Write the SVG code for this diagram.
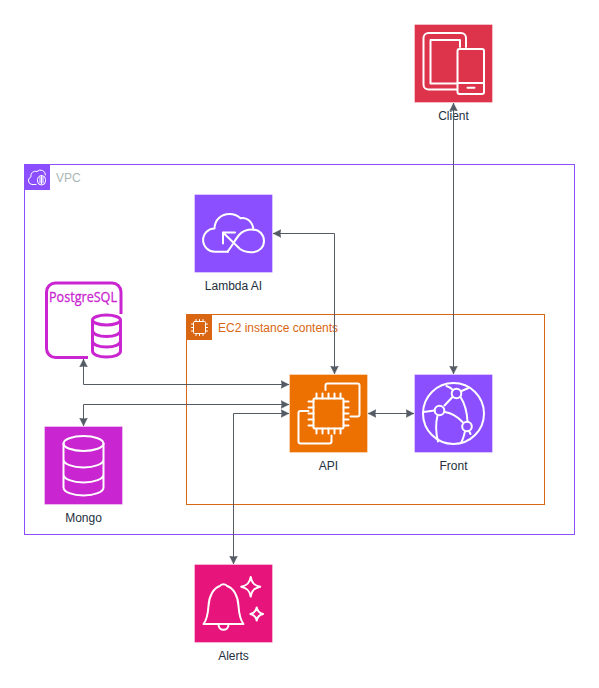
<svg xmlns="http://www.w3.org/2000/svg" width="599" height="688" viewBox="0 0 599 688">
<style>
text{font-family:"Liberation Sans",Arial,sans-serif;font-size:12px}
.lbl{fill:#232f3e;text-anchor:middle}
.box{stroke:#fff;stroke-opacity:.35;stroke-width:1}
.ic{fill:none;stroke:#fff;stroke-width:2;stroke-linejoin:round;stroke-linecap:round}
.ic1{fill:none;stroke:#fff;stroke-width:1;stroke-linejoin:round;stroke-linecap:round}
.pg{fill:none;stroke:#c925d1;stroke-width:3;stroke-linejoin:round}
.con{fill:none;stroke:#545b64;stroke-width:1;marker-start:url(#ah);marker-end:url(#ah)}
</style>
<defs>
<marker id="ah" markerWidth="9" markerHeight="9" refX="8" refY="4.500" orient="auto-start-reverse" markerUnits="userSpaceOnUse">
<path d="M8 4.500L0 .5L.8 4.500L0 8.500Z" fill="#545b64" stroke="#545b64" stroke-width=".3"/>
</marker>
</defs>
<rect width="599" height="688" fill="#fff"/>

<g id="vpc">
<rect x="24.500" y="164.500" width="550" height="370" fill="none" stroke="#8c4fff"/>
<rect x="25" y="165" width="25" height="25" fill="#8c4fff"/>
<path class="ic1" d="M36 184.500h-4a4 4 0 0 1-1-7.700a4.500 4.500 0 0 1 6-5.300a5 5 0 0 1 8.500 3.500"/>
<rect class="ic1" x="37.500" y="175.500" width="8" height="9.500" rx="4"/>
<path class="ic1" d="M40 177v6M41.500 176v8M43 177v6"/>
<text x="56" y="182" fill="#aab7b8">VPC</text>
</g>

<g id="ec2-group">
<rect x="186.500" y="314.500" width="358" height="190" fill="none" stroke="#d86613"/>
<rect x="187" y="315" width="25" height="25" fill="#d86613"/>
<rect class="ic1" x="193.500" y="321.500" width="12" height="12" rx="1"/>
<path class="ic1" d="M196 319.500v2M199.500 319.500v2M203 319.500v2M196 333.500v2M199.500 333.500v2M203 333.500v2M191.500 324h2M191.500 327.500h2M191.500 331h2M205.500 324h2M205.500 327.500h2M205.500 331h2"/>
<text x="218" y="332" fill="#d86613">EC2 instance contents</text>
</g>

<g id="client">
<rect class="box" x="414.500" y="24.500" width="78" height="78" fill="#dd344c"/>
<path class="ic" d="M466 47v-9a5 5 0 0 0-5-5h-32.500a5 5 0 0 0-5 5v46.500a5 5 0 0 0 5 5H457"/>
<path class="ic" d="M460 47v-7h-29.500v43.500H457"/>
<rect class="ic" x="457.500" y="49" width="26.500" height="45" rx="2"/>
<path class="ic" d="M457.500 83H484M467.500 87.800h7"/>
<text class="lbl" x="453.500" y="120">Client</text>
</g>

<g id="lambda-ai">
<rect class="box" x="194.500" y="194.500" width="78" height="78" fill="#8c4fff"/>
<path class="ic" d="M228 251.700h-13a11 11 0 0 1-.5-23.300c.3-8.500 6.500-14.300 15-14.300c4.500 0 8 1.500 11 4.200c6-1.500 12 3 13 11.500"/>
<path class="ic" d="M223 232.500h12M223 232.500v11M223 232.500L240 249c3.500 2.500 8 3.500 13 3.200c6.500-.5 11-5.200 11-11.200c0-6.500-5-11.500-11.500-11.500c-5.500 0-10.500 1.800-13.500 5.500c-4 5-7 11-11.500 16.700"/>
<text class="lbl" x="233.500" y="290">Lambda AI</text>
</g>

<g id="postgresql">
<path class="pg" d="M121 314V292a9 9 0 0 0-9-9H55.500a9 9 0 0 0-9 9v56.500a9 9 0 0 0 9 9H88"/>
<text x="49" y="302" fill="#c925d1" stroke="#c925d1" stroke-width=".3" textLength="68" lengthAdjust="spacingAndGlyphs" style="font-family:'Open Sans','Liberation Sans',sans-serif;font-size:15px">PostgreSQL</text>
<ellipse class="pg" cx="106.500" cy="320" rx="14" ry="5"/>
<path class="pg" d="M92.500 320v31c0 3.500 6 6 14 6s14-2.500 14-6v-31M92.500 330.500c0 3.500 6 6 14 6s14-2.500 14-6M92.500 341c0 3.500 6 6 14 6s14-2.500 14-6"/>
</g>

<g id="mongo">
<rect class="box" x="44.500" y="426.500" width="78" height="78" fill="#c925d1"/>
<ellipse class="ic" cx="83.500" cy="443.500" rx="20" ry="7.500"/>
<path class="ic" d="M63.500 443.500v44c0 4.500 9 8 20 8s20-3.500 20-8v-44M63.500 459.500c0 4.500 9 8 20 8s20-3.500 20-8M63.500 474.500c0 4.500 9 8 20 8s20-3.500 20-8"/>
<text class="lbl" x="83.500" y="522">Mongo</text>
</g>

<g id="api">
<rect class="box" x="289.500" y="374.500" width="78" height="78" fill="#ed7100"/>
<rect class="ic" x="313.500" y="398.500" width="30" height="30" rx="1"/>
<path class="ic" d="M316.500 393.500v5M322.500 393.500v5M328.500 393.500v5M334.500 393.500v5M340.500 393.500v5M316.500 428.500v5M322.500 428.500v5M328.500 428.500v5M334.500 428.500v5M340.500 428.500v5M308.500 401.500h5M308.500 407.500h5M308.500 413.500h5M308.500 419.500h5M308.500 425.500h5M343.500 401.500h5M343.500 407.500h5M343.500 413.500h5M343.500 419.500h5M343.500 425.500h5"/>
<path class="ic" d="M325.500 390v-4.500a2 2 0 0 1 2-2h30a2 2 0 0 1 2 2v29a2 2 0 0 1-2 2h-7"/>
<path class="ic" d="M308.500 411h-8a2 2 0 0 0-2 2v28.500a2 2 0 0 0 2 2h29a2 2 0 0 0 2-2v-6"/>
<text class="lbl" x="328.500" y="470">API</text>
</g>

<g id="front">
<rect class="box" x="414.500" y="374.500" width="78" height="78" fill="#8c4fff"/>
<circle class="ic" cx="453.500" cy="413.500" r="30.500"/>
<circle class="ic" cx="456.500" cy="393.500" r="4.800"/>
<circle class="ic" cx="439.500" cy="410.500" r="4.800"/>
<circle class="ic" cx="467" cy="426.500" r="4.800"/>
<path class="ic" d="M452.500 397l-8 8.500M445 412c6 1 12 4 17.500 10M460.500 397c4.500 7 6.500 14 7 24.500M437.500 415.500c-2 8-1.500 18 .5 26M434.500 410.500l-11 1.500M446.500 386c3 1 5 2.500 6.500 4M461.500 391l7-3M465 431.500c-1 3.500-1.500 7-3.500 10.500M469 431l1.500 3"/>
<text class="lbl" x="453.500" y="470">Front</text>
</g>

<g id="alerts">
<rect class="box" x="194.500" y="564.500" width="78" height="78" fill="#e7157b"/>
<path class="ic" d="M203.500 624c4-5 4.500-11 5-18c.5-10 5-18 11.500-20c1-2.500 6-2.500 7 0c6.500 2 11 10 11.500 20c.5 7 1 13 5 18z"/>
<path class="ic" d="M218.500 624.500c0 7 10 7 10 0"/>
<path class="ic" d="M250.700 577c1 6 3.500 8.500 9.500 9.700c-6 1.300-8.500 3.800-9.500 9.800c-1-6-3.500-8.500-9.500-9.800c6-1.200 8.500-3.700 9.500-9.700z"/>
<path class="ic" d="M256.700 607.500c.7 4 2.300 5.500 6.300 6.500c-4 1-5.600 2.500-6.300 6.500c-.7-4-2.300-5.500-6.300-6.500c4-1 5.600-2.500 6.300-6.500z"/>
<text class="lbl" x="233.500" y="660">Alerts</text>
</g>

<g id="connectors">
<path class="con" d="M453.500 103V374"/>
<path class="con" d="M273 233.500H334.500V374"/>
<path class="con" d="M83.500 359V384.500H289"/>
<path class="con" d="M83.500 426V404.500H289"/>
<path class="con" d="M233.500 564V413.500H289"/>
<path class="con" d="M368 413.500H414"/>
</g>
</svg>
